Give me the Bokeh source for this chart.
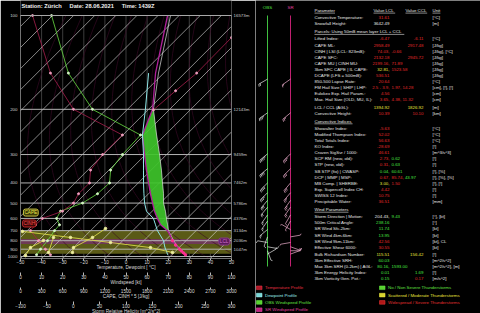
import math
from bokeh.plotting import figure
from bokeh.models import (Range1d, LinearAxis, FixedTicker, Label,
                          CustomJSTickFormatter, ColumnDataSource)
from bokeh.layouts import row
from bokeh.embed import file_html
from bokeh.resources import INLINE
from bokeh.core.properties import value

# ---------------------------------------------------------------- data
STATION = "Zürich"
DATE = "28.06.2021"
TIME = "1439Z"

pressure_ticks = [100, 200, 300, 400, 500, 600, 700, 800, 900, 1000]
height_ticks = [100, 200, 300, 400, 500, 600, 700, 800, 900]
height_labels = ["16573m", "12143m", "9459m", "7462m", "5786m", "4376m", "3134m", "2036m", "1047m"]
temp_ticks = [-50, -40, -30, -20, -10, 0, 10, 20, 30, 40, 50]
ws_ticks = [0, 10, 20, 30, 40, 50, 60, 70, 80, 90, 100]
cape_ticks = [0, 300, 600, 900, 1200, 1500, 1800, 2100, 2400, 2700, 3000]
srh_ticks = [-100, -50, 0, 50, 100, 150, 200, 250, 300]

# temperature profile [hPa], [degC]
temp_p = [975, 950, 925, 900, 850, 800, 750, 700, 650, 600, 550, 500, 450, 400, 350, 300, 250, 200, 150, 100]
temperature = [28.2, 27.3, 26.3, 25.4, 23.5, 22.0, 21.1, 19.7, 16.4, 14.9, 13.5, 12.6, 11.6, 10.7, 9.7, 8.8, 7.8, 12.6, 14.0, 19.7]
# dewpoint profile
dew_p = [975, 925, 900, 850, 800, 750, 700, 650, 600, 550, 500, 450, 400, 350, 300, 250, 200, 150]
dewpoint = [19.7, 19.2, 18.7, 18.2, 17.8, 16.4, 14.9, 14.0, 13.0, 9.7, 8.8, 8.5, 8.3, 8.3, 8.3, 7.8, 9.2, 10.7]
# parcel
parcel_p = [975, 900, 850, 800, 750, 700, 650, 600, 550, 500, 450, 400, 350, 300, 250, 200, 150, 100]
parcel_t = [28.4, 25.8, 24.0, 22.6, 21.4, 20.1, 19.7, 19.2, 18.7, 17.8, 17.8, 17.3, 16.8, 15.9, 14.5, 13.0, 15.4, 21.1]
cape_top = 200
cape_bottom = 700

# windspeed profiles [kt]
ws_p = [975, 900, 800, 700, 650, 600, 550, 500, 450, 400, 350, 300, 250, 200, 150, 100]
ws_obs = [7.6, 9.5, 12.8, 16.1, 18.5, 17.1, 19.0, 29.4, 36.5, 42.2, 42.7, 48.3, 56.9, 34.1, 22.7, 14.7]
ws_sr = [14.2, 11.8, 8.5, 4.7, 7.1, 10.4, 19.9, 25.1, 27.5, 32.7, 33.2, 38.9, 48.3, 25.1, 14.2, 5.7]
# helicity trace (upper levels)
srh_p = [116, 150, 172, 201]
srh_val = [300, 234, 194, 152]
# CAPE / CINH traces in the boundary layer
cape_a_p = [707, 766, 820, 880, 943]
cape_a = [28, 711, 1280, 1848, 2161]
cape_b_p = [681, 766, 880, 943]
cape_b = [1209, 1024, 754, 739]
cape_c_p = [798, 880, 986]
cape_c = [327, 142, 71]
cape_d_p = [766, 943]
cape_d = [469, 398]

band_p = [700, 960]
lcl_band_p = [783, 838]
box_labels = [("CAPE", -48.6, 559), ("CINH", -49.0, 639), ("LCL", 44.0, 809)]

# wind barbs
barb_p = [157, 206, 298, 345, 400, 445, 485, 525, 575, 620, 690, 760, 820, 870, 920, 965]
obs_dir = [240, 235, 230, 230, 225, 225, 220, 220, 215, 215, 230, 200, 280, 100, 160, 60]
obs_spd = [24, 36, 48, 43, 42, 37, 31, 24, 18, 17, 16, 14, 12, 10, 9, 8]
sr_dir = [235, 230, 225, 225, 220, 220, 215, 215, 210, 210, 300, 80, 260, 110, 90, 70]
sr_spd = [15, 27, 39, 33, 33, 28, 25, 22, 14, 9, 6, 7, 9, 11, 12, 14]

R, G, Yl, W = "#e02a2a", "#48e040", "#e8e43c", "#e6e6e6"
table_rows = [
    ("hdr", "Parameter", [], [], "Unit"),
    ("row", "Convective Temperature:", [("31.61", R)], [], "[°C]"),
    ("row", "Snowfall Height:", [("3642.49", W)], [], "[m]"),
    ("sec", "Parcels: Using 50mB mean layer LCL + CCL", [], [], ""),
    ("row", "Lifted Index:", [("-6.47", R)], [("-6.11", R)], "[°C]"),
    ("row", "CAPE ML:", [("2958.49", R)], [("2917.48", R)], "[J/kg]"),
    ("row", "CINH | LSI (LCL: 823mB):", [("74.03,", R), ("-0.66", R)], [], "[J/kg], [°C]"),
    ("row", "CAPE SFC:", [("2132.18", R)], [("2945.72", R)], "[J/kg]"),
    ("row", "CAPE MU | CINH MU:", [("2199.16,", R), ("71.89", R)], [], "[J/kg]"),
    ("row", "3km SFC CAPE | IL CAPE:", [("32.81,", Yl), ("1523.58", R)], [], "[J/kg]"),
    ("row", "DCAPE (LFS = 500mB):", [("536.51", R)], [], "[J/kg]"),
    ("row", "850-500 Lapse Rate:", [("20.64", R)], [], "[°C]"),
    ("row", "FM Hail Size | SHIP | LHP:", [("2.5 - 3.9,", R), ("1.97,", R), ("14.28", R)], [], "[cm], [!], [!]"),
    ("row", "Eulokex Exp. Hail Param.:", [("4.56", R)], [], "[cm]"),
    ("row", "Max. Hail Size (OLD, MU, IL):", [("3.65,", R), ("4.38,", R), ("11.32", R)], [], "[cm]"),
    ("row+", "LCL / CCL (AGL):", [("1394.92", Yl)], [("1826.92", Yl)], "[m]"),
    ("row", "Convective Height:", [("10.39", R)], [("10.10", R)], "[km]"),
    ("sec", "Convective Indices", [], [], ""),
    ("row", "Showalter Index:", [("-5.63", R)], [], "[°C]"),
    ("row", "Modified Thompson Index:", [("52.02", R)], [], "[°C]"),
    ("row", "Total Totals Index:", [("56.63", R)], [], "[°C]"),
    ("row", "KO Index:", [("-28.69", R)], [], "[!]"),
    ("row", "Craven SigSvr / 1000:", [("46.61", R)], [], "[m^3/s^3]"),
    ("row", "SCP RM (new, old):", [("2.73,", R), ("0.62", G)], [], "[!]"),
    ("row", "STP (new, old):", [("0.31,", R), ("0.63", G)], [], "[!]"),
    ("row", "SB STP (fix) | CWASP:", [("0.04,", G), ("60.61", G)], [], "[!], [%]"),
    ("row", "DCP | MMP | MSP:", [("0.67,", R), ("85.74,", R), ("43.97", G)], [], "[!], [%], [%]"),
    ("row", "MB Comp. | SHERBE:", [("3.00,", Yl), ("1.50", R)], [], "[!], [!]"),
    ("row", "Exp. Supercell Index CH:", [("4.42", R)], [], "[!]"),
    ("row", "SWISS 12 Index:", [("10.75", R)], [], "[!]"),
    ("row", "Precipitable Water:", [("36.51", R)], [], "[mm]"),
    ("sec", "Wind Parameters", [], [], ""),
    ("row", "Storm Direction | Motion:", [("204.43,", W), ("9.43", G)], [], "[°], [kt]"),
    ("row", "500m Critical Angle:", [("238.16", G)], [], "[°]"),
    ("row", "SR Wind Sfc-2km:", [("11.74", G)], [], "[kt]"),
    ("row", "SR Wind 4km-6km:", [("13.95", G)], [], "[kt]"),
    ("row", "SR Wind 9km-11km:", [("42.56", R)], [], "[kt], CL"),
    ("row", "Effective Shear 6000:", [("30.55", R)], [], "[kt]"),
    ("row+", "Bulk Richardson Number:", [("115.51", Yl)], [("156.42", Yl)], "[!]"),
    ("row", "3km Effective SRH:", [("60.03", G)], [], "[m^2/s^2]"),
    ("row", "Max 3km SRH (0-2km) | AGL:", [("80.16,", G), ("1593.00", G)], [], "[m^2/s^2], [m]"),
    ("row", "3km Energy Helicity Index:", [("0.01", G)], [("1.69", G)], "[!]"),
    ("row", "3km Vorticity Gen. Pot.:", [("0.15", G)], [("0.17", R)], "[m/s^2]"),
]

legend_left = [("Temperature Profile", "#e03040", "#b01828"),
               ("Dewpoint Profile", "#9af0f0", "#7ad8d8"),
               ("OBS Windspeed Profile", "#62e040", "#58d030"),
               ("SR Windspeed Profile", "#e040a0", "#c02080")]
legend_right = [("No / Non Severe Thunderstorms", "#62e040", "#58d030"),
                ("Scattered / Moderate Thunderstorms", "#e8e43c", "#d8d430"),
                ("Widespread / Severe Thunderstorms", "#e03030", "#b01818")]

# ---------------------------------------------------------------- layout
FONT = "Liberation Sans"
W_A, W_B, H = 255, 225, 313
FT, FB, FL, FR = 15, 258, 20, 231
EXP = 0.35
P_TOP, P_BOT = 100, 1030


def Y(p):
    return p ** (-EXP)


PXY = (FB - FT) / (Y(P_TOP) - Y(P_BOT))       # px per Y unit
SKEW = PXY / ((FR - FL) / 100.0)               # deg per Y unit (45 deg lines)
PXT = (FR - FL) / 100.0                         # px per degC
Y_TOP_CANVAS = Y(P_TOP) + FT / PXY             # value at the top edge of the page

# the frame reaches the top of the page; the diagram box itself is drawn as glyphs
pa = figure(frame_width=FR - FL, frame_height=FB, x_range=Range1d(-50, 50),
            y_range=Range1d(Y(P_BOT), Y_TOP_CANVAS), title=None,
            output_backend="svg", toolbar_location=None, frame_align=False,
            min_border_left=FL, min_border_right=W_A - FR,
            min_border_top=0, min_border_bottom=H - FB,
            background_fill_color="black", border_fill_color="black",
            outline_line_color=None)

AX_FS = "4.7px"


def style_axis(ax, ticks, label, tick_out, standoff, lab_standoff):
    ax.ticker = FixedTicker(ticks=ticks)
    ax.axis_label = label
    ax.axis_line_color = None
    ax.major_tick_in = 0
    ax.major_tick_out = tick_out
    ax.major_tick_line_color = "#b8b8b8"
    ax.minor_tick_line_color = None
    ax.major_label_text_font = FONT
    ax.major_label_text_font_size = AX_FS
    ax.major_label_text_color = "#dcdcdc"
    ax.axis_label_text_font = FONT
    ax.axis_label_text_font_size = AX_FS
    ax.axis_label_text_font_style = "normal"
    ax.axis_label_text_color = "#dcdcdc"
    ax.major_label_standoff = standoff
    ax.axis_label_standoff = lab_standoff


style_axis(pa.xaxis[0], temp_ticks, "Temperature, Dewpoint [ °C]", 2, -1, -2)
pa.extra_x_ranges = {"ws": Range1d(0, 100), "cape": Range1d(0, 3000),
                     "srh": Range1d(-100, 300)}
for rname, ticks, lab, tout in [("ws", ws_ticks, "Windspeed [kt]", 3),
                                ("cape", cape_ticks, "CAPE, CINH * 5 [J/kg]", 2),
                                ("srh", srh_ticks, "Storm Relative Helicity [m^2/s^2]", 3)]:
    ax = LinearAxis(x_range_name=rname)
    style_axis(ax, ticks, lab, tout, -1, -2)
    pa.add_layout(ax, "below")

ly = pa.yaxis[0]
ly.ticker = FixedTicker(ticks=[Y(p) for p in pressure_ticks])
ly.formatter = CustomJSTickFormatter(code="return String(Math.round(Math.pow(tick, -1/0.35)));")
ly.axis_line_color = None
ly.major_tick_out = 0
ly.major_tick_in = 0
ly.minor_tick_line_color = None
ly.major_label_text_font = FONT
ly.major_label_text_font_size = "4.4px"
ly.major_label_text_color = "#d0d0d0"
ly.major_label_standoff = 3

ry = LinearAxis(ticker=FixedTicker(ticks=[Y(p) for p in height_ticks]),
                formatter=CustomJSTickFormatter(
                    args=dict(P=height_ticks, L=height_labels),
                    code="const p = Math.round(Math.pow(tick, -1/0.35));"
                         "for (let i = 0; i < P.length; i++) { if (P[i] == p) return L[i]; }"
                         "return '';"))
ry.axis_line_color = None
ry.major_tick_out = 0
ry.major_tick_in = 0
ry.minor_tick_line_color = None
ry.major_label_text_font = FONT
ry.major_label_text_font_size = "4.4px"
ry.major_label_text_color = "#c8c8c8"
ry.major_label_standoff = 2
pa.add_layout(ry, "right")

pa.grid.visible = False

# title
pa.text(x=[-50 + 1.0 / PXT], y=[Y(P_TOP) + (FT - 5.3) / PXY],
        text=["Station: " + STATION + "\u00a0" * 5 + "Date: " + DATE + "\u00a0" * 5 + "Time: " + TIME],
        text_font=value(FONT), text_font_size=value("5.7px"), text_font_style="bold",
        text_color="#f0f0f0", text_baseline="middle", text_align="left")

# vertical isotherm guides
pa.multi_line([[t, t] for t in temp_ticks], [[Y(P_BOT), Y(P_TOP)] for _ in temp_ticks],
              line_color="#3c3c3c", line_width=1)

# bands
pa.quad(left=-50, right=50, bottom=Y(band_p[1]), top=Y(band_p[0]),
        fill_color="#5a5a16", line_color=None)
pa.quad(left=-50, right=50, bottom=Y(lcl_band_p[1]), top=Y(lcl_band_p[0]),
        fill_color="#6e3a56", line_color=None)

# dry adiabats (faint)
plev = [P_BOT - 10 * i for i in range(int((P_BOT - P_TOP) / 10) + 1)]
ad_xs, ad_ys = [], []
for theta in range(250, 481, 15):
    ad_xs.append([theta * (p / 1000.0) ** 0.2857 - 273.15 + SKEW * (Y(p) - Y(P_BOT)) for p in plev])
    ad_ys.append([Y(p) for p in plev])
pa.multi_line(ad_xs, ad_ys, line_color="#3a0a26", line_width=0.7, line_alpha=0.9)

# isotherms (45 deg diagonals), clipped to the diagram box
iso_xs, iso_ys = [], []
span = SKEW * (Y(P_TOP) - Y(P_BOT))
for t in range(-170, 51, 10):
    x0, x1 = t, t + span
    ya, yb = Y(P_BOT), Y(P_TOP)
    if x0 < -50:
        ya = Y(P_BOT) + (-50 - t) / SKEW
        x0 = -50
    if x1 > 50:
        yb = Y(P_BOT) + (50 - t) / SKEW
        x1 = 50
    if ya < yb:
        iso_xs.append([x0, x1])
        iso_ys.append([ya, yb])
pa.multi_line(iso_xs, iso_ys, line_color="#e0e0e0", line_width=0.7, line_alpha=0.85)

# pressure lines
pa.multi_line([[-50, 50] for _ in pressure_ticks], [[Y(p), Y(p)] for p in pressure_ticks],
              line_color="#b4b4b4", line_width=1)

# CAPE area
t_at = dict(zip(temp_p, temperature))
cp = [p for p in parcel_p if cape_top <= p <= cape_bottom]
cx2 = [parcel_t[parcel_p.index(p)] for p in cp]
cx1 = [t_at[p] for p in cp]
pa.harea(x1=cx1, x2=cx2, y=[Y(p) for p in cp], fill_color="#3ec42a", fill_alpha=0.92)

# profiles
pa.line(parcel_t, [Y(p) for p in parcel_p], line_color="#e8e8e8", line_width=0.8, line_alpha=0.85)
pa.line(temperature, [Y(p) for p in temp_p], line_color="#b0209a", line_width=1.3)
pa.scatter(temperature[:6], [Y(p) for p in temp_p[:6]], size=2.5, color="#ff3090")
pa.line(dewpoint, [Y(p) for p in dew_p], line_color="#8ee6e6", line_width=1)

pa.line(ws_obs, [Y(p) for p in ws_p], x_range_name="ws", line_color="#6ade44", line_width=0.8)
pa.scatter(ws_obs, [Y(p) for p in ws_p], x_range_name="ws", size=2, color="#d8f8c8")
pa.line(ws_sr, [Y(p) for p in ws_p], x_range_name="ws", line_color="#a8204e", line_width=0.8)
pa.scatter(ws_sr, [Y(p) for p in ws_p], x_range_name="ws", size=2, color="#f0a0c0")
pa.line(srh_val, [Y(p) for p in srh_p], x_range_name="srh", line_color="#a8204e", line_width=0.8)
pa.scatter(srh_val, [Y(p) for p in srh_p], x_range_name="srh", size=2, color="#f0a0c0")

for cv, cpp in [(cape_a, cape_a_p), (cape_b, cape_b_p), (cape_c, cape_c_p), (cape_d, cape_d_p)]:
    pa.line(cv, [Y(p) for p in cpp], x_range_name="cape", line_color="#d8d848", line_width=0.9)
    pa.scatter(cv, [Y(p) for p in cpp], x_range_name="cape", size=2.5, color="#f0f0a0")

# diagram box
pa.quad(left=-50, right=50, bottom=Y(P_BOT), top=Y(P_TOP), fill_color=None,
        line_color="#a8a8a8", line_width=1)

box_style = {"CAPE": ("#ece448", "#3c3c08", "#c8c040"),
             "CINH": ("#ff5050", "#3c0808", "#c02828"),
             "LCL": ("#d070d0", "#5a1a5a", "#8a3a8a")}
for txt, bx, bp in box_labels:
    tc, bg, bc = box_style[txt]
    pa.add_layout(Label(x=bx, y=Y(bp), text=txt, text_color=tc, text_font=FONT,
                        text_font_size="4.7px", text_baseline="middle",
                        background_fill_color=bg, border_line_color=bc,
                        border_line_width=1, padding=1, border_radius=2))

# ---------------------------------------------------------------- right panel
pb = figure(frame_width=W_B, frame_height=H,
            x_range=Range1d(W_A, W_A + W_B), y_range=Range1d(H, 0), title=None,
            output_backend="svg", toolbar_location=None, frame_align=False,
            x_axis_location=None, y_axis_location=None,
            min_border_left=0, min_border_right=0, min_border_top=0, min_border_bottom=0,
            background_fill_color="black", border_fill_color="black",
            outline_line_color=None)
pb.grid.visible = False
pb.extra_y_ranges = {"p": Range1d(Y(P_BOT) - (H - FB) / PXY, Y_TOP_CANVAS)}

X_OBS, X_SR = 267, 290
pb.segment(x0=[X_OBS], y0=[FT], x1=[X_OBS], y1=[266], line_color="#40c040", line_width=1)
pb.segment(x0=[X_SR], y0=[FT], x1=[X_SR], y1=[266], line_color="#c02070", line_width=1)


def barb_segments(xc, p, d, s):
    y0 = Y(p)
    r = math.radians(d)
    ux, uy = math.sin(r), math.cos(r)
    L = 10.0
    segs = [(xc, y0, xc + ux * L, y0 + uy * L / PXY)]
    vx, vy = -uy, ux
    n10 = int(s // 10)
    n5 = 1 if s - 10 * n10 >= 5 else 0
    pos = L
    for i in range(n10 + n5):
        fl = 2.4 if i < n10 else 1.3
        bx, by = ux * pos, uy * pos
        segs.append((xc + bx, y0 + by / PXY,
                     xc + bx + vx * fl + ux * 1.0, y0 + (by + vy * fl + uy * 1.0) / PXY))
        pos -= 1.6
    return segs


for xc, dirs, spds, col in [(X_OBS, obs_dir, obs_spd, "#e8e8e8"), (X_SR, sr_dir, sr_spd, "#f0b0d0")]:
    segs = []
    for p, d, s in zip(barb_p, dirs, spds):
        segs += barb_segments(xc, p, d, s)
    pb.segment(x0=[s[0] for s in segs], y0=[s[1] for s in segs],
               x1=[s[2] for s in segs], y1=[s[3] for s in segs],
               y_range_name="p", line_color=col, line_width=0.7)

# table
FS = 4.4
X_PAR, X_LCL, X_CCL, X_UNIT = 314, 389, 423, 432


def tw(s, fs=FS):
    w = 0.0
    for c in s:
        if c in "iljI.,:;|'!":
            w += 0.25
        elif c in "ft[]()r-/ ":
            w += 0.31
        elif c in "mwMW":
            w += 0.85
        elif c.isupper():
            w += 0.68
        else:
            w += 0.55
    return w * fs


L_items = []
C_items = [(X_OBS, 7, "OBS", "#50e040"), (X_SR, 7, "SR", "#e040a0")]
R_items, ul = [], []
y = 10.0
prev = None
for kind, label, lcl, ccl, unit in table_rows:
    if prev is not None:
        step = 6.1
        if kind == "sec":
            step += 2
        if prev in ("sec", "hdr"):
            step += 1
        if kind == "row+":
            step += 1
        y += step
    prev = kind
    L_items.append((X_PAR, y, label, W))
    if kind in ("hdr", "sec"):
        ul.append((X_PAR, X_PAR + tw(label), y + 2.6))
    if kind == "hdr":
        for xx, t in [(373, "Value LCL"), (405, "Value CCL")]:
            L_items.append((xx, y, t, W))
            ul.append((xx, xx + tw(t), y + 2.6))
        ul.append((X_UNIT, X_UNIT + tw(unit), y + 2.6))
    if lcl:
        R_items.append((X_LCL, y, lcl[0][0], lcl[0][1]))
        xx = X_LCL + 2
        for t, c in lcl[1:]:
            L_items.append((xx, y, t, c))
            xx += tw(t) + 1.5
    if ccl:
        R_items.append((X_CCL, y, ccl[0][0], ccl[0][1]))
    if unit:
        L_items.append((X_UNIT, y, unit, W))

# legends
LEG_Y = [287.3, 294.6, 301.9, 309.2]
for items, xb in [(legend_left, 256), (legend_right, 379)]:
    ys = LEG_Y[:len(items)]
    pb.quad(left=[xb] * len(items), right=[xb + 5.5] * len(items),
            top=[yy - 1.8 for yy in ys], bottom=[yy + 1.8 for yy in ys],
            fill_color=[it[2] for it in items], line_color=[it[1] for it in items], line_width=0.6)
    for (txt, tc, fc), yy in zip(items, ys):
        L_items.append((xb + 8.5, yy, txt, tc))

for items, align in [(L_items, "left"), (R_items, "right"), (C_items, "center")]:
    src = ColumnDataSource(dict(x=[i[0] for i in items], y=[i[1] for i in items],
                                t=[i[2] for i in items], c=[i[3] for i in items]))
    pb.text(x="x", y="y", text="t", text_color="c", source=src, text_font=value(FONT),
            text_font_size=value("%.1fpx" % FS), text_align=align, text_baseline="middle")
pb.segment(x0=[u[0] for u in ul], y0=[u[2] for u in ul], x1=[u[1] for u in ul], y1=[u[2] for u in ul],
           line_color=W, line_width=0.6)

layout = row(pa, pb)
open("out.html", "w").write(file_html(layout, INLINE))
